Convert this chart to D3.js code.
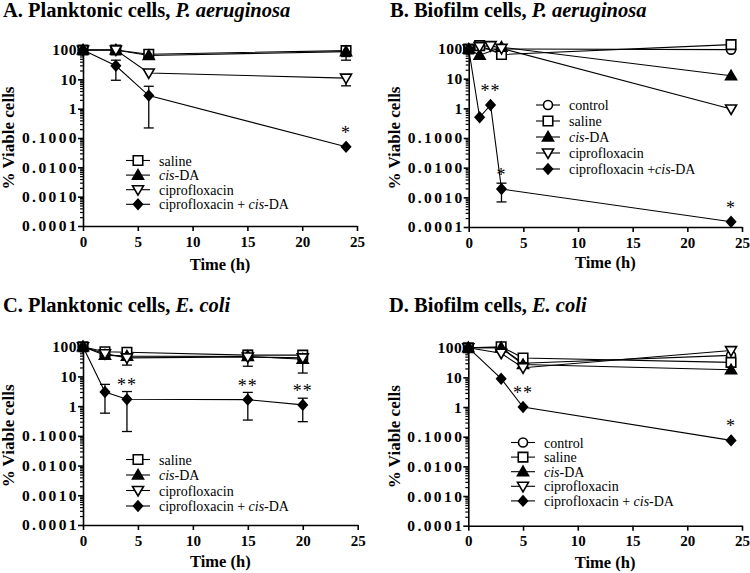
<!DOCTYPE html>
<html>
<head>
<meta charset="utf-8">
<script src="https://cdn.jsdelivr.net/npm/d3@7"></script>
<style>
  body { margin: 0; background: #fff; }
</style>
</head>
<body>
<div id="viz"></div>
<script>
// general variables
var w = 750
var h = 573
var serif = "Liberation Serif"

// shared axis values
var xTicks = [0, 5, 10, 15, 20, 25]
var yTicks = [0.0001, 0.001, 0.01, 0.1, 1, 10, 100]
var yTickLabels = ["0.0001", "0.0010", "0.0100", "0.1000", "1", "10", "100"]

// A. planktonic, P. aeruginosa
var timeA = [0, 3, 6, 24]
var salineA = [100, 100, 72, 95]
var cisA = [100, 100, 65, 88]
var ciproA = [100, 100, 16.5, 11]
var comboA = [100, 29, 2.8, 0.05]
var salineErrA = [null, null, null, [45, 115]]
var cisErrA = [null, null, null, [60, 110]]
var ciproErrA = [null, null, null, [6, 14]]
var comboErrA = [null, [9.3, 45], [0.22, 5.8], null]
var starTimesA = [24]
var starLabelsA = ["*"]

// B. biofilm, P. aeruginosa
var timeB = [0, 1, 2, 3, 24]
var controlB = [100, null, null, 100, 95]
var salineB = [100, 130, null, 65, 140]
var cisB = [100, 62, null, 115, 12.5]
var ciproB = [100, 120, 130, 105, 0.95]
var comboB = [100, 0.5, 1.3, 0.0019, 0.00015]
var salineErrB = [null, null, null, [50, 95], null]
var comboErrB = [null, null, null, [0.0007, 0.003], null]
var starTimesB = [2, 3, 24]
var starLabelsB = ["**", "*", "*"]

// C. planktonic, E. coli
var timeC = [0, 2, 4, 15, 20]
var salineC = [100, 68, 65, 52, 52]
var cisC = [100, 52, 48, 47, 38]
var ciproC = [100, 58, 42, 45, 42]
var comboC = [100, 3.0, 1.7, 1.65, 1.1]
var salineErrC = [null, null, [24, 80], [22, 75], [13, 70]]
var comboErrC = [null, [0.58, 5.4], [0.14, 3.1], [0.34, 2.9], [0.3, 1.85]]
var starTimesC = [4, 15, 20]
var starLabelsC = ["**", "**", "**"]

// D. biofilm, E. coli
var timeD = [0, 3, 5, 24]
var controlD = [100, 100, 30, 55]
var salineD = [100, 108, 45, 32]
var cisD = [100, 100, 27, 18]
var ciproD = [100, 65, 21, 80]
var comboD = [100, 9, 1.0, 0.075]
var salineErrD = [null, null, null, [22, 95]]
var starTimesD = [5, 24]
var starLabelsD = ["**", "*"]

var svg = d3.select("#viz")
  .append("svg")
  .attr("width", w)
  .attr("height", h)

// marker paths
function markerPath(kind) {
  if (kind == "circle") return d3.symbol(d3.symbolCircle, 64)()
  if (kind == "square") return d3.symbol(d3.symbolSquare, 90)()
  if (kind == "up") return "M0,-5.5L5.5,4L-5.5,4Z"
  if (kind == "down") return "M0,5.5L5.5,-4L-5.5,-4Z"
  return "M0,-5L4.5,0L0,5L-4.5,0Z" // diamond
}
var filled = { circle: false, square: false, up: true, down: false, diamond: true }

function drawMarker(g, kind, x, y) {
  g.append("path")
    .attr("d", markerPath(kind))
    .attr("transform", "translate(" + x + "," + y + ")")
    .attr("fill", filled[kind] ? "#000" : "#fff")
    .attr("stroke", "#000")
    .attr("stroke-width", 1.6)
}

function drawPanel(p) {
  var g = svg.append("g")
  var x = d3.scaleLinear().domain([0, 25]).range([p.x0, p.x1])
  var y = d3.scaleLog().domain([0.0001, 100]).range([p.y0, p.y1])

  // title
  var t = g.append("text")
    .attr("x", p.tx).attr("y", p.ty)
    .style("font-family", serif)
    .attr("font-size", 20.5).attr("font-weight", "bold")
  t.append("tspan").text(p.title)
  t.append("tspan").attr("font-style", "italic").text(p.species)

  // minor y ticks
  var minor = []
  for (var e = -4; e < 2; e++) {
    for (var k = 2; k < 10; k++) minor.push(k * Math.pow(10, e))
  }
  g.append("g")
    .attr("transform", "translate(" + p.x0 + ",0)")
    .call(d3.axisLeft(y).tickValues(minor).tickSize(3).tickFormat(""))
    .call(a => a.select(".domain").remove())
    .call(a => a.selectAll("line").attr("stroke-width", 1.2))

  // major y axis (decimal labels are set wide, as in the original)
  g.append("g")
    .attr("transform", "translate(" + p.x0 + ",0)")
    .call(d3.axisLeft(y).tickValues(yTicks).tickSize(5).tickSizeOuter(0)
      .tickFormat((d, i) => yTickLabels[i]))
    .call(a => a.select(".domain").attr("stroke-width", 1.6))
    .call(a => a.selectAll("line").attr("stroke-width", 1.6))
    .call(a => a.selectAll("text").attr("font-size", 15.5).attr("font-weight", "bold")
      .style("font-family", serif).attr("fill", "#000")
      .attr("letter-spacing", d => d < 1 ? 2.4 : 0.5)
      .attr("x", d => d < 1 ? -4 : -6))

  // x axis
  g.append("g")
    .attr("transform", "translate(0," + p.y0 + ")")
    .call(d3.axisBottom(x).tickValues(xTicks).tickSize(5).tickSizeOuter(0))
    .call(a => a.select(".domain").attr("stroke-width", 1.6))
    .call(a => a.selectAll("line").attr("stroke-width", 1.6))
    .call(a => a.selectAll("text").attr("font-size", 15).attr("font-weight", "bold")
      .style("font-family", serif).attr("fill", "#000").attr("y", 10))

  // axis titles
  g.append("text")
    .attr("x", (p.x0 + p.x1) / 2).attr("y", p.xty)
    .attr("text-anchor", "middle")
    .style("font-family", serif)
    .attr("font-size", 16.5).attr("font-weight", "bold")
    .text("Time (h)")
  g.append("text")
    .attr("transform", "translate(" + p.ytx + "," + (p.y0 + p.y1) / 2 + ") rotate(-90)")
    .attr("text-anchor", "middle")
    .style("font-family", serif)
    .attr("font-size", 17).attr("font-weight", "bold")
    .text("% Viable cells")

  // lines
  var line = d3.line().x(d => x(d[0])).y(d => y(d[1]))
  p.series.forEach(s => {
    var pts = p.time.map((tt, i) => [tt, s.values[i]]).filter(d => d[1] != null)
    g.append("path")
      .attr("d", line(pts))
      .attr("fill", "none")
      .attr("stroke", "#000")
      .attr("stroke-width", 1.1)
  })

  // error bars
  p.series.forEach(s => {
    if (!s.err) return
    s.err.forEach((e, i) => {
      if (!e) return
      var cx = x(p.time[i])
      g.append("line").attr("x1", cx).attr("x2", cx)
        .attr("y1", y(e[0])).attr("y2", y(e[1]))
        .attr("stroke", "#000").attr("stroke-width", 1.3)
      e.forEach(v => {
        g.append("line").attr("x1", cx - 5).attr("x2", cx + 5)
          .attr("y1", y(v)).attr("y2", y(v))
          .attr("stroke", "#000").attr("stroke-width", 1.3)
      })
    })
  })

  // markers
  p.series.forEach(s => {
    p.time.forEach((tt, i) => {
      if (s.values[i] == null) return
      drawMarker(g, s.kind, x(tt), y(s.values[i]))
    })
  })

  // significance stars above the combination series
  var combo = p.series[p.series.length - 1]
  p.starTimes.forEach((st, i) => {
    var v = combo.values[p.time.indexOf(st)]
    g.append("text")
      .attr("x", x(st)).attr("y", y(v) - 8)
      .attr("text-anchor", "middle")
      .style("font-family", serif)
      .style("fill", "#000")
      .style("opacity", 0.999)
      .attr("font-size", 18)
      .attr("letter-spacing", 1)
      .text(p.starLabels[i])
  })

  // legend
  p.series.forEach((s, i) => {
    var ly = p.ly + i * p.lstep
    g.append("line")
      .attr("x1", p.lx - 12).attr("x2", p.lx + 12)
      .attr("y1", ly).attr("y2", ly)
      .attr("stroke", "#000").attr("stroke-width", 1.1)
    drawMarker(g, s.kind, p.lx, ly)
    var lt = g.append("text")
      .attr("x", p.lx + 21).attr("y", ly + 5)
      .style("font-family", serif)
      .attr("font-size", 14)
    s.label.forEach((part, j) => {
      lt.append("tspan").attr("font-style", j % 2 == 1 ? "italic" : "normal").text(part)
    })
  })
}

var labSaline = ["saline"]
var labControl = ["control"]
var labCis = ["", "cis", "-DA"]
var labCipro = ["ciprofloxacin"]

drawPanel({
  title: "A. Planktonic cells, ", species: "P. aeruginosa", tx: 3, ty: 17,
  x0: 83, x1: 357, y0: 226, y1: 50, xty: 270, ytx: 14,
  time: timeA,
  series: [
    { kind: "square", values: salineA, err: salineErrA, label: labSaline },
    { kind: "up", values: cisA, err: cisErrA, label: labCis },
    { kind: "down", values: ciproA, err: ciproErrA, label: labCipro },
    { kind: "diamond", values: comboA, err: comboErrA, label: ["ciprofloxacin + ", "cis", "-DA"] }
  ],
  starTimes: starTimesA, starLabels: starLabelsA,
  lx: 138, ly: 160.5, lstep: 14.6
})

drawPanel({
  title: "B. Biofilm cells, ", species: "P. aeruginosa", tx: 390, ty: 17,
  x0: 468.7, x1: 742, y0: 227, y1: 49, xty: 268, ytx: 400,
  time: timeB,
  series: [
    { kind: "circle", values: controlB, err: null, label: labControl },
    { kind: "square", values: salineB, err: salineErrB, label: labSaline },
    { kind: "up", values: cisB, err: null, label: labCis },
    { kind: "down", values: ciproB, err: null, label: labCipro },
    { kind: "diamond", values: comboB, err: comboErrB, label: ["ciprofloxacin +", "cis", "-DA"] }
  ],
  starTimes: starTimesB, starLabels: starLabelsB,
  lx: 548, ly: 105, lstep: 16
})

drawPanel({
  title: "C. Planktonic cells, ", species: "E. coli", tx: 3, ty: 312,
  x0: 83, x1: 357.7, y0: 525, y1: 346.7, xty: 567, ytx: 14,
  time: timeC,
  series: [
    { kind: "square", values: salineC, err: salineErrC, label: labSaline },
    { kind: "up", values: cisC, err: null, label: labCis },
    { kind: "down", values: ciproC, err: null, label: labCipro },
    { kind: "diamond", values: comboC, err: comboErrC, label: ["ciprofloxacin + ", "cis", "-DA"] }
  ],
  starTimes: starTimesC, starLabels: starLabelsC,
  lx: 138, ly: 459.5, lstep: 15.5
})

drawPanel({
  title: "D. Biofilm cells, ", species: "E. coli", tx: 389, ty: 312,
  x0: 468.3, x1: 742, y0: 525.7, y1: 347.7, xty: 568, ytx: 400,
  time: timeD,
  series: [
    { kind: "circle", values: controlD, err: null, label: labControl },
    { kind: "square", values: salineD, err: salineErrD, label: labSaline },
    { kind: "up", values: cisD, err: null, label: labCis },
    { kind: "down", values: ciproD, err: null, label: labCipro },
    { kind: "diamond", values: comboD, err: null, label: ["ciprofloxacin + ", "cis", "-DA"] }
  ],
  starTimes: starTimesD, starLabels: starLabelsD,
  lx: 523, ly: 442.5, lstep: 14.6
})
</script>
</body>
</html>
